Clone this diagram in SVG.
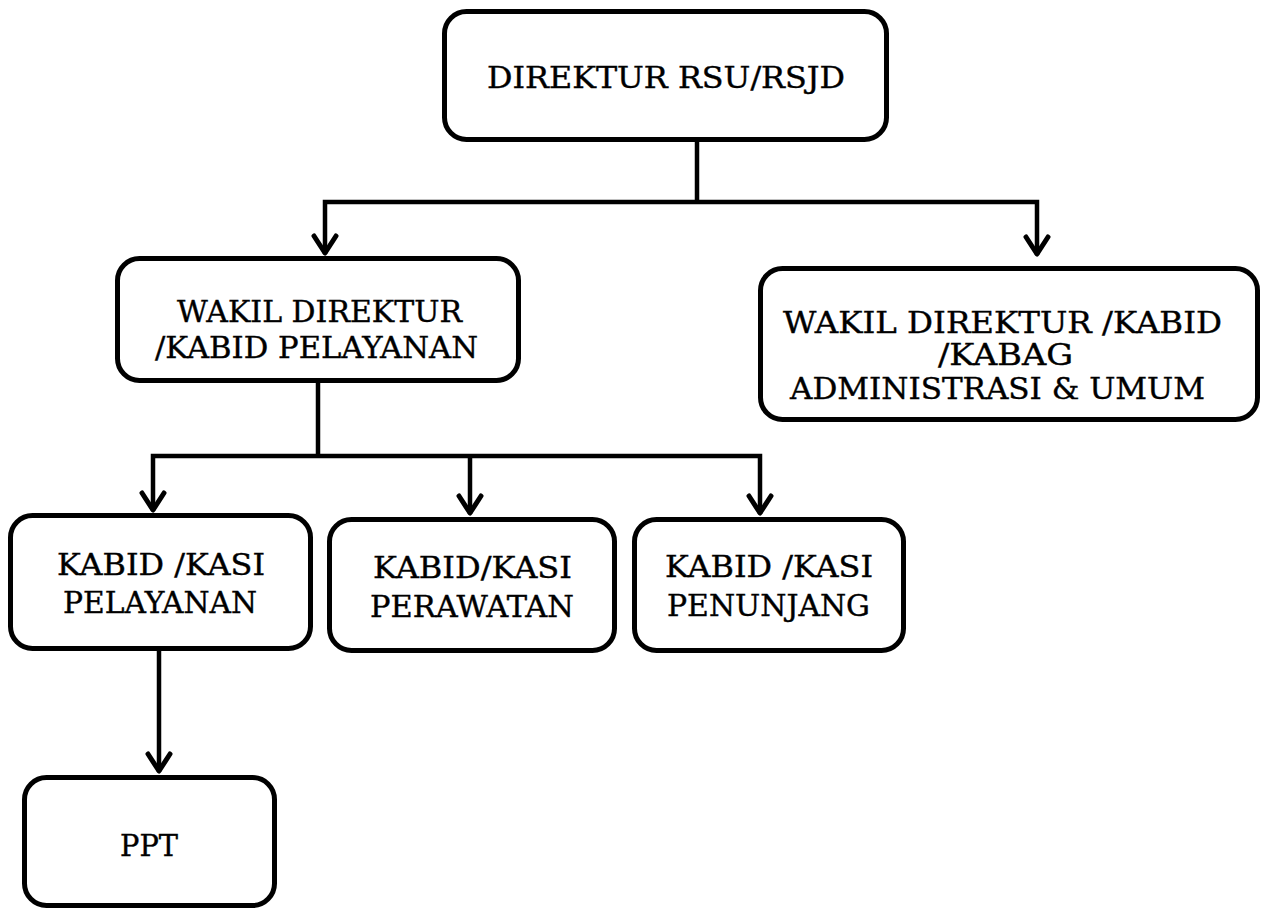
<svg xmlns="http://www.w3.org/2000/svg" width="1261" height="909" viewBox="0 0 1261 909">
<style>
.box{fill:#fff;stroke:#000;stroke-width:5}
.t{font-family:"DejaVu Serif","Liberation Serif",serif;font-size:30px;fill:#000;stroke:#000;stroke-width:0.4;text-anchor:middle}
.c{fill:none;stroke:#000;stroke-width:4.5;stroke-linejoin:miter}
</style>
<defs>
<marker id="arr" markerUnits="userSpaceOnUse" orient="auto" refX="0" refY="0" markerWidth="40" markerHeight="40" overflow="visible">
<path d="M-18,-11 L-1,0 L-18,11" fill="none" stroke="#000" stroke-width="5" stroke-linecap="round" stroke-linejoin="round"/>
</marker>
</defs>
<rect width="1261" height="909" fill="#fff"/>
<g id="connectors">
<path class="c" d="M697,142 V202"/>
<path class="c" d="M697,202 H325 V254" marker-end="url(#arr)"/>
<path class="c" d="M697,202 H1037 V255" marker-end="url(#arr)"/>
<path class="c" d="M318,383 V456"/>
<path class="c" d="M318,456 H153 V511" marker-end="url(#arr)"/>
<path class="c" d="M318,456 H760 V514" marker-end="url(#arr)"/>
<path class="c" d="M470,456 V514" marker-end="url(#arr)"/>
<path class="c" d="M159,651 V772" marker-end="url(#arr)"/>
</g>
<g id="direktur">
<rect class="box" x="444.5" y="11.5" width="442" height="128" rx="22"/>
<text class="t" x="666" y="88" textLength="358" lengthAdjust="spacingAndGlyphs">DIREKTUR RSU/RSJD</text>
</g>
<g id="wadir-pelayanan">
<rect class="box" x="117.5" y="258.5" width="401" height="122" rx="22"/>
<text class="t" x="319.5" y="322" textLength="285" lengthAdjust="spacingAndGlyphs">WAKIL DIREKTUR</text>
<text class="t" x="316.5" y="358" textLength="323" lengthAdjust="spacingAndGlyphs">/KABID PELAYANAN</text>
</g>
<g id="wadir-admin">
<rect class="box" x="760.5" y="268.5" width="497" height="151" rx="22"/>
<text class="t" x="1002.5" y="333" textLength="439" lengthAdjust="spacingAndGlyphs">WAKIL DIREKTUR /KABID</text>
<text class="t" x="1005.5" y="365" textLength="135" lengthAdjust="spacingAndGlyphs">/KABAG</text>
<text class="t" x="997.5" y="399" textLength="415" lengthAdjust="spacingAndGlyphs">ADMINISTRASI &amp; UMUM</text>
</g>
<g id="kasi-pelayanan">
<rect class="box" x="10.5" y="515.5" width="300" height="133" rx="22"/>
<text class="t" x="161" y="575" textLength="208" lengthAdjust="spacingAndGlyphs">KABID /KASI</text>
<text class="t" x="160" y="613" textLength="194" lengthAdjust="spacingAndGlyphs">PELAYANAN</text>
</g>
<g id="kasi-perawatan">
<rect class="box" x="329.5" y="519.5" width="285" height="131" rx="22"/>
<text class="t" x="472.5" y="578" textLength="199" lengthAdjust="spacingAndGlyphs">KABID/KASI</text>
<text class="t" x="472" y="617" textLength="204" lengthAdjust="spacingAndGlyphs">PERAWATAN</text>
</g>
<g id="kasi-penunjang">
<rect class="box" x="634.5" y="519.5" width="269" height="131" rx="22"/>
<text class="t" x="769" y="577" textLength="208" lengthAdjust="spacingAndGlyphs">KABID /KASI</text>
<text class="t" x="768.5" y="616" textLength="203" lengthAdjust="spacingAndGlyphs">PENUNJANG</text>
</g>
<g id="ppt">
<rect class="box" x="24.5" y="777.5" width="250" height="128" rx="22"/>
<text class="t" x="149" y="856" textLength="58" lengthAdjust="spacingAndGlyphs">PPT</text>
</g>
</svg>
